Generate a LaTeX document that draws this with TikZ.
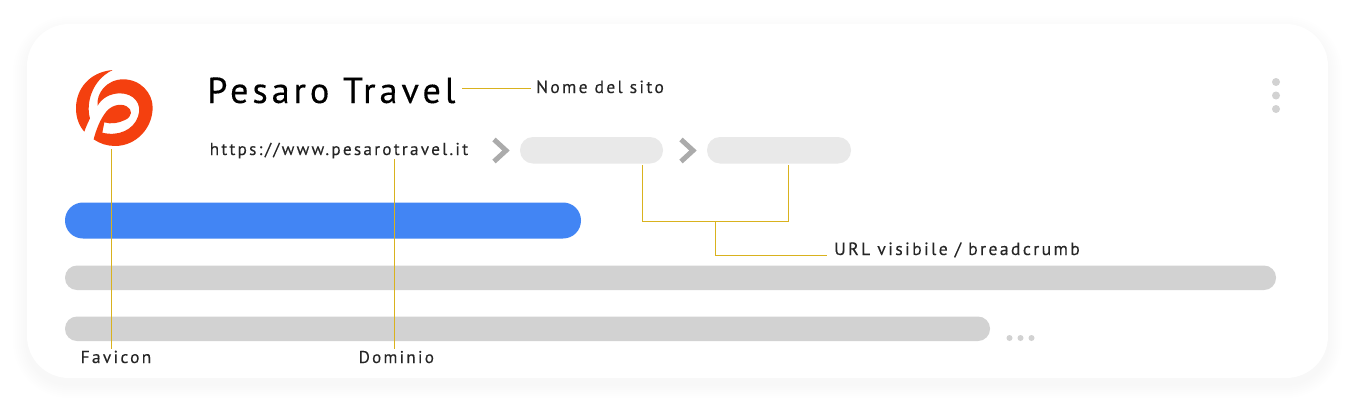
\documentclass[tikz,border=0pt]{standalone}
\usepackage{fontspec}
\setmainfont{PT Sans}
\newfontfamily\wideA[LetterSpace=11,FakeBold=0.25]{PT Sans}
\newfontfamily\wideB[LetterSpace=13,FakeBold=0.2]{PT Sans}
\definecolor{leader}{HTML}{D9B21E}
\definecolor{logored}{HTML}{F4400F}
\definecolor{barblue}{HTML}{4285F4}
\definecolor{bargrey}{HTML}{D2D2D2}
\definecolor{crumb}{HTML}{E9E9E9}
\definecolor{chev}{HTML}{ABABAB}
\definecolor{labelink}{HTML}{262626}
\tikzset{
  leaderline/.style={draw=leader,line width=1.1pt},
  note/.style={font=\wideB\fontsize{17.6}{20}\selectfont,text=labelink,inner sep=0pt,anchor=base west},
  chevron/.style={draw=chev,line width=5pt,line cap=butt,line join=miter,miter limit=4},
  crumbbar/.style={fill=crumb,rounded corners=13pt},
  textbar/.style={fill=bargrey,rounded corners=12pt},
  dotmark/.style={fill=bargrey,circle,inner sep=0pt},
}
\begin{document}
\begin{tikzpicture}[x=1pt,y=-1pt]
\useasboundingbox (0,0) rectangle (1358,410);
\fill[white] (0,0) rectangle (1358,410);
% soft card shadow
\foreach \g in {14,12,...,2}{
  \fill[black,opacity=0.005,rounded corners={42pt+\g pt}]
    (27-\g,24+6-\g) rectangle (1328+\g,378+6+\g);
}
\node[draw=none,fill=white,rounded corners=42pt,minimum width=1301pt,minimum height=354pt,inner sep=0pt] (card) at (677.5,201) {};
% logo
\begin{scope}[shift={(70,65)},x=0.3333pt,y=-0.3333pt]
  \fill[logored] (128,15) .. controls (60,21) and (18,70) .. (18,130)
     .. controls (18,160) and (28,183) .. (43,200)
     .. controls (48,185) and (54,173) .. (60,160)
     .. controls (48,120) and (62,47) .. (128,15) -- cycle;
  \fill[logored] (83,122) .. controls (78,85) and (110,43) .. (160,43)
     .. controls (212,43) and (248,85) .. (248,127)
     .. controls (248,190) and (198,243) .. (135,243)
     .. controls (112,243) and (90,236) .. (71,223)
     .. controls (78,195) and (90,165) .. (105,145)
     .. controls (120,122) and (150,113) .. (170,124)
     .. controls (188,133) and (188,155) .. (165,165)
     .. controls (145,175) and (122,178) .. (103,172)
     -- (97,203)
     .. controls (145,215) and (190,195) .. (204,155)
     .. controls (218,115) and (190,85) .. (150,85)
     .. controls (120,85) and (95,100) .. (83,122) -- cycle;
\end{scope}
% title and domain
\node[font=\wideA\fontsize{36.2}{40}\selectfont,text=black,inner sep=0pt,anchor=base west] (title) at (207,103) {Pesaro Travel};
\node[note,font=\wideB\fontsize{17.25}{20}\selectfont] (domain) at (209.5,155) {https://www.pesarotravel.it};
% breadcrumb
\draw[chevron] (494,139.5) -- (506,150.5) -- (494,161.5);
\draw[chevron] (681,139.5) -- (693,150.5) -- (681,161.5);
\path[crumbbar] (520,137) rectangle (663,163.5);
\path[crumbbar] (707,137) rectangle (851,163.5);
\coordinate (crumbA) at (642.5,165);
\coordinate (crumbB) at (788.5,165);
% bars
\path[fill=barblue,rounded corners=17.9pt] (65,202.5) rectangle (581,238.5);
\path[textbar] (65,265.5) rectangle (1276,290);
\path[textbar] (65,316.5) rectangle (990,341);
% dots
\foreach \y/\n in {82/a,95.5/b,109/c}{\node[dotmark,minimum size=8pt] (menu\n) at (1276,\y) {};}
\foreach \x/\n in {1009.5/a,1020.5/b,1031.5/c}{\node[dotmark,minimum size=6pt] (more\n) at (\x,338) {};}
% labels
\node[note] (nome) at (536,93) {Nome del sito};
\node[note,font=\wideB\fontsize{17.8}{20}\selectfont] (url) at (834,255) {URL visibile / breadcrumb};
\node[note,font=\wideB\fontsize{17.4}{20}\selectfont] (fav) at (80.5,363) {Favicon};
\node[note,font=\wideB\fontsize{17.1}{20}\selectfont] (dom) at (358.5,363) {Dominio};
% leaders
\coordinate (titleEnd) at (462,88.5);
\coordinate (nomeStart) at (531,88.5);
\draw[leaderline] (titleEnd) -- (nomeStart);
\coordinate (favTop) at (111.5,149);
\coordinate (favEnd) at (111.5,349);
\draw[leaderline] (favTop) -- (favEnd);
\coordinate (domTop) at (394.5,159);
\coordinate (domEnd) at (394.5,349);
\draw[leaderline] (domTop) -- (domEnd);
\coordinate (urlEnd) at (827,255.5);
\draw[leaderline] (crumbA) -- (642.5,221.5) -- (788.5,221.5) -- (crumbB);
\draw[leaderline] (715.5,221.5) -- (715.5,255.5) -- (urlEnd);
\end{tikzpicture}
\end{document}
